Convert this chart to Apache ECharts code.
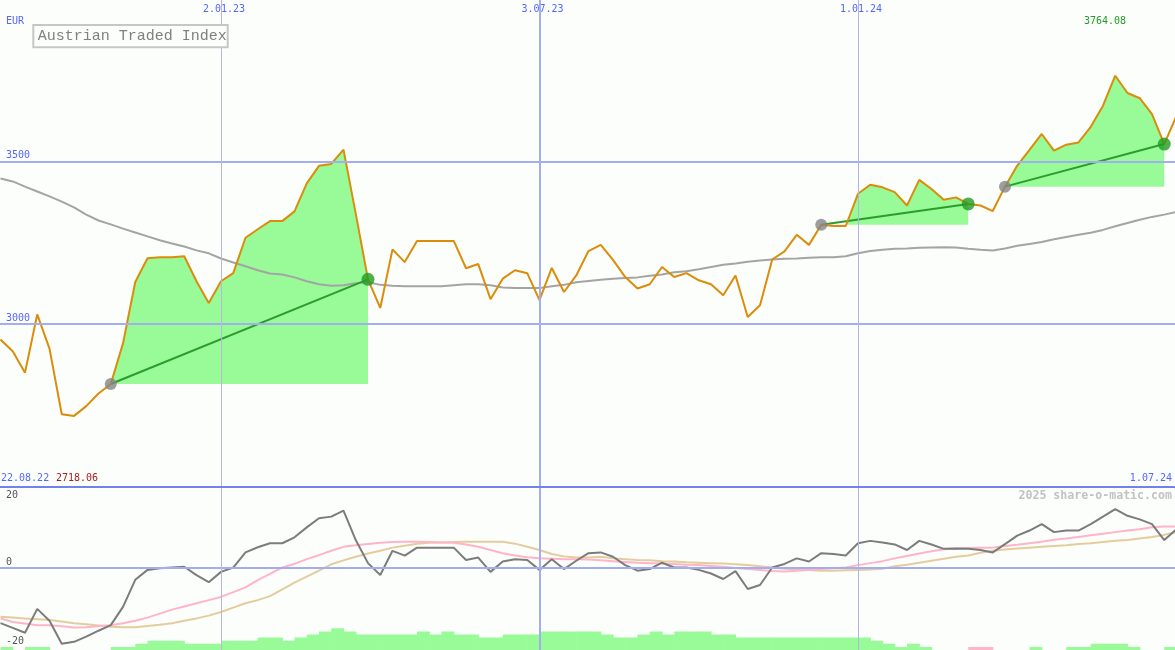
<!DOCTYPE html>
<html><head><meta charset="utf-8">
<script src="https://cdn.jsdelivr.net/npm/echarts@6/dist/echarts.min.js"></script>
<style>html,body{margin:0;padding:0;background:#fcfefc;}#c{width:1175px;height:650px;}</style>
</head><body><div id="c"></div>
<script>
// ---------- data ----------
const firstWeek = 1;                 // week index of first value (week 0 = 22.08.22)
const chartTitle = 'Austrian Traded Index';
const currency = 'EUR';
const startLabel = '22.08.22';
const endLabel = '1.07.24';
const minLabel = '2718.06';
const maxLabel = '3764.08';
const watermark = '2025 share-o-matic.com';
const xTickWeeks = [19, 45, 71];
const xTickLabels = ['2.01.23', '3.07.23', '1.01.24'];
const priceTicks = [3000, 3500];
const oscTicks = [20, 0, -20];

const price = [
  2953, 2917, 2851, 3030, 2925, 2723, 2718.06, 2748, 2787, 2816,
  2941, 3130, 3203, 3206, 3206, 3209, 3132, 3065, 3132, 3157,
  3266, 3292, 3317, 3317, 3347, 3433, 3487, 3493, 3537, 3340,
  3138, 3050, 3230, 3191, 3256, 3256, 3256, 3256, 3172, 3185,
  3077, 3140, 3166, 3157, 3074, 3173, 3099, 3150, 3225, 3244,
  3198, 3145, 3110, 3123, 3176, 3145, 3157, 3135, 3123, 3089,
  3150, 3022, 3058, 3199, 3224, 3275, 3244, 3306, 3302, 3302,
  3401, 3429, 3421, 3406, 3365, 3444, 3416, 3383, 3390, 3370,
  3365, 3348, 3423, 3488, 3536, 3585, 3534, 3552, 3559, 3607,
  3672, 3764.08, 3711, 3695, 3646, 3554, 3641
];
const priceMA = [
  3448, 3439, 3423, 3408, 3393, 3377, 3359, 3337, 3319, 3307,
  3294, 3282, 3270, 3258, 3248, 3239, 3227, 3218, 3202, 3190,
  3178, 3166, 3156, 3153, 3144, 3132, 3123, 3118, 3120, 3126,
  3129, 3121, 3118, 3117, 3117, 3117, 3117, 3120, 3123, 3123,
  3120, 3113, 3111, 3111, 3111, 3117, 3121, 3129, 3133, 3137,
  3140, 3142, 3144, 3149, 3153, 3160, 3163, 3169, 3176, 3183,
  3187, 3192, 3196, 3199, 3201, 3202, 3204, 3206, 3206, 3209,
  3218, 3225, 3229, 3232, 3233, 3235, 3236, 3237, 3236, 3232,
  3229, 3227, 3233, 3241, 3247, 3253, 3261, 3268, 3275, 3281,
  3290, 3301, 3311, 3321, 3330, 3337, 3345
];
const osc = [
  -14.0, -15.2, -16.4, -10.4, -13.4, -19.2, -18.7, -17.4, -15.9, -14.5,
  -9.9, -3.1, -0.6, -0.2, 0, 0.2, -1.9, -3.7, -1.1, 0,
  3.8, 5.1, 6.1, 6.1, 7.6, 10.1, 12.4, 12.8, 14.3, 6.9,
  1.1, -1.9, 4.2, 3.0, 5.0, 5.0, 5.0, 5.0, 1.9, 2.5,
  -1.1, 1.5, 2.1, 1.9, -0.6, 2.1, -0.4, 1.7, 3.6, 3.8,
  2.7, 0.6, -0.8, -0.4, 1.2, 0, 0, -0.6, -1.5, -2.9,
  -0.9, -5.4, -4.4, 0, 0.9, 2.3, 1.5, 3.6, 3.4, 3.0,
  6.1, 6.7, 6.3, 5.8, 4.4, 6.7, 5.8, 4.7, 4.8, 4.7,
  4.4, 3.8, 5.9, 8.0, 9.3, 10.9, 8.9, 9.3, 9.3, 10.9,
  12.8, 14.7, 13.0, 12.1, 10.9, 6.9, 9.6
];
const oscFast = [
  -12.8, -13.7, -14.1, -14.5, -14.5, -14.8, -15.1, -15.0, -14.7, -14.5,
  -14.0, -13.4, -12.6, -11.6, -10.6, -9.8, -9.0, -8.2, -7.4, -6.2,
  -5.0, -3.2, -1.6, 0, 0.9, 2.1, 3.1, 4.2, 5.2, 5.6,
  5.9, 6.2, 6.4, 6.5, 6.5, 6.4, 6.3, 6.2, 5.8, 5.2,
  4.4, 3.6, 3.0, 2.6, 2.3, 2.2, 2.1, 2.1, 2.0, 1.8,
  1.6, 1.4, 1.2, 1.1, 1.0, 0.9, 0.7, 0.6, 0.4, 0.2,
  -0.1, -0.4, -0.6, -0.9, -1.0, -0.8, -0.6, -0.4, -0.2, 0,
  0.6, 1.1, 1.6, 2.3, 2.9, 3.5, 4.1, 4.6, 4.8, 4.9,
  5.0, 5.0, 5.4, 5.7, 6.1, 6.5, 7.0, 7.3, 7.7, 8.1,
  8.5, 8.9, 9.3, 9.6, 10.1, 10.3, 10.3
];
const oscSlow = [
  -12.4, -12.6, -12.8, -13.0, -13.2, -13.6, -14.0, -14.3, -14.6, -14.9,
  -15.0, -15.0, -14.7, -14.4, -14.0, -13.4, -12.8, -12.1, -11.2, -10.1,
  -9.0, -8.2, -7.2, -5.5, -3.8, -2.3, -0.8, 0.8, 1.8, 2.7,
  3.5, 4.2, 5.0, 5.5, 6.0, 6.2, 6.3, 6.4, 6.5, 6.5,
  6.5, 6.5, 6.0, 5.2, 4.4, 3.4, 2.8, 2.5, 2.5, 2.7,
  2.3, 2.1, 1.9, 1.8, 1.6, 1.5, 1.3, 1.2, 1.1, 1.0,
  0.8, 0.6, 0.3, 0, -0.3, -0.5, -0.6, -0.8, -0.8, -0.7,
  -0.6, -0.5, -0.3, 0.3, 0.7, 1.2, 1.7, 2.2, 2.7, 3.0,
  3.7, 4.2, 4.5, 4.8, 5.0, 5.2, 5.4, 5.6, 5.9, 6.1,
  6.4, 6.7, 6.9, 7.3, 7.7, 8.2, 9.0
];
// weekly histogram (value of week i spans week i .. i+1)
const hist = [
  1, 0, 1, 1, 0, 0, 0, 0, 0, 1,
  1, 2, 3, 3, 3, 2, 2, 2, 3, 3,
  3, 4, 4, 3, 4, 5, 6, 7, 6, 5,
  5, 5, 5, 5, 6, 5, 6, 5, 5, 4,
  4, 5, 5, 5, 6, 6, 6, 6, 6, 5,
  4, 4, 5, 6, 5, 6, 6, 6, 5, 5,
  4, 4, 4, 4, 4, 4, 4, 4, 4, 4,
  4, 3, 2, 1, 2, 1, 0, 0, 0, -1,
  -1, 0, 0, 0, 1, 0, 0, 1, 1, 2,
  2, 2, 1, 0, 0, 1
];
// trades: [entry week, exit week]
const tradeEntries = [10, 68, 83];
const tradeExits = [31, 80, 96];

// ---------- styles ----------
const MONO = '"DejaVu Sans Mono", "Liberation Mono", monospace';
const BLUE_TXT = '#5566ff';
const GRID_BLUE = '#a3aef2';
const FILL_GREEN = '#98fb98';
const FILL_PINK = '#ffb6c6';
const X_MIN = 0.9592, X_MAX = 96.878;

const P = w => price[w - firstWeek];
const pts = arr => arr.map((v, k) => [k + firstWeek, v]);

function renderTrade(params, api) {
  const s = api.value(0), e = api.value(2);
  const base = P(s);
  const children = [];
  let run = [], sign = 0;
  const flush = () => {
    if (run.length > 1 && sign !== 0) {
      const poly = [api.coord([run[0][0], base])]
        .concat(run.map(p => api.coord(p)))
        .concat([api.coord([run[run.length - 1][0], base])]);
      children.push({ type: 'polygon', shape: { points: poly }, style: { fill: sign > 0 ? FILL_GREEN : FILL_PINK } });
    }
  };
  for (let w = s; w <= e; w++) {
    const v = P(w), d = v - base;
    if (w > s) {
      const pd = P(w - 1) - base;
      if (pd * d < 0) {
        const xc = (w - 1) + pd / (pd - d);
        run.push([xc, base]); flush(); run = [[xc, base]]; sign = 0;
      }
    }
    run.push([w, v]);
    if (sign === 0 && d !== 0) sign = Math.sign(d);
  }
  flush();
  return { type: 'group', children };
}

function renderHist(params, api) {
  const i = api.value(0), v = api.value(1);
  if (!v) return { type: 'group', children: [] };
  const a = api.coord([i, 0]), b = api.coord([i + 1, Math.abs(v)]);
  return { type: 'rect', shape: { x: a[0], y: b[1], width: b[0] - a[0] + 0.6, height: a[1] - b[1] },
           style: { fill: v > 0 ? FILL_GREEN : FILL_PINK } };
}

const vStyles = [
  { color: '#b6b8d6', width: 1 },
  { color: GRID_BLUE, width: 2 },
  { color: '#b0b6e4', width: 1 }
];
const vLines = xTickWeeks.map((w, k) => ({ xAxis: w, lineStyle: { ...vStyles[k], type: 'solid' } }));

const lineBase = { type: 'line', symbol: 'none', silent: true, smooth: false };

const chart = echarts.init(document.getElementById('c'), null, { renderer: 'canvas' });
const option = {
  animation: false,
  backgroundColor: '#fcfefc',
  textStyle: { fontFamily: MONO },
  grid: [
    { left: 0, width: 1175, top: 0, height: 486.8, containLabel: false, outerBoundsMode: 'none' },
    { left: 0, width: 1175, top: 486.8, height: 163.2, containLabel: false, outerBoundsMode: 'none' }
  ],
  xAxis: [
    { type: 'value', gridIndex: 0, min: X_MIN, max: X_MAX, position: 'top',
      axisLine: { show: false, onZero: false }, axisTick: { show: false }, splitLine: { show: false },
      axisLabel: { inside: true, customValues: xTickWeeks, margin: 4, padding: [0, 0, 0, 6],
        formatter: v => { const k = xTickWeeks.indexOf(v); return k >= 0 ? xTickLabels[k] : ''; },
        color: BLUE_TXT, fontFamily: MONO, fontSize: 10 } },
    { type: 'value', gridIndex: 1, min: X_MIN, max: X_MAX, position: 'top',
      axisLine: { show: true, onZero: false, lineStyle: { color: '#7282ea', width: 2 } },
      axisTick: { show: false }, splitLine: { show: false }, axisLabel: { show: false }, z: 10 }
  ],
  yAxis: [
    { type: 'value', gridIndex: 0, min: 2500, max: 3997, position: 'left',
      axisLine: { show: false }, axisTick: { show: false }, splitLine: { show: false },
      axisLabel: { inside: true, customValues: priceTicks, margin: 6, verticalAlign: 'bottom', lineHeight: 12,
        formatter: v => String(v),
        color: BLUE_TXT, fontFamily: MONO, fontSize: 10 } },
    { type: 'value', gridIndex: 1, min: -20.75, max: 20.3, position: 'left',
      axisLine: { show: false }, axisTick: { show: false }, splitLine: { show: false },
      axisLabel: { inside: true, customValues: oscTicks, margin: 6, verticalAlign: 'middle',
        color: '#555555', fontFamily: MONO, fontSize: 10,
        formatter: v => v === oscTicks[0] ? '{d|' + v + '}' : '{u|' + v + '}',
        rich: {
          d: { padding: [15, 0, 0, 0], color: '#555555', fontFamily: MONO, fontSize: 10, lineHeight: 12 },
          u: { padding: [0, 0, 11, 0], color: '#555555', fontFamily: MONO, fontSize: 10, lineHeight: 12 }
        } } },
    { type: 'value', gridIndex: 1, min: 0, max: 52.65, show: false }
  ],
  series: [
    // main grid lines
    { ...lineBase, xAxisIndex: 0, yAxisIndex: 0, data: [], z: 0,
      markLine: { silent: true, symbol: ['none', 'none'], label: { show: false }, animation: false,
        data: priceTicks.map(v => ({ yAxis: v, lineStyle: { color: GRID_BLUE, width: 2, type: 'solid' } })).concat(vLines) } },
    // trade fills
    { type: 'custom', xAxisIndex: 0, yAxisIndex: 0, z: 1, clip: true, silent: true,
      dimensions: ['start', 'entry', 'end'], encode: { x: 'start', y: 'entry' },
      data: tradeEntries.map((s, k) => [s, P(s), tradeExits[k]]),
      renderItem: renderTrade },
    // moving average
    { ...lineBase, xAxisIndex: 0, yAxisIndex: 0, z: 2, data: pts(priceMA),
      lineStyle: { color: '#a4a4a4', width: 2 } },
    // trade diagonals
    ...tradeEntries.map((s, k) => ({ ...lineBase, xAxisIndex: 0, yAxisIndex: 0, z: 3,
      data: [[s, P(s)], [tradeExits[k], P(tradeExits[k])]],
      lineStyle: { color: '#2b9d2b', width: 2 } })),
    // price
    { ...lineBase, xAxisIndex: 0, yAxisIndex: 0, z: 4, data: pts(price),
      lineStyle: { color: '#da8c0a', width: 2 } },
    // entry / exit markers
    { type: 'scatter', xAxisIndex: 0, yAxisIndex: 0, z: 5, silent: true, symbolSize: 12,
      data: tradeEntries.map(s => [s, P(s)]), itemStyle: { color: '#858585' } },
    { type: 'scatter', xAxisIndex: 0, yAxisIndex: 0, z: 5, silent: true, symbolSize: 13,
      data: tradeExits.map(e => [e, P(e)]), itemStyle: { color: '#239b23' } },

    // lower grid lines
    { ...lineBase, xAxisIndex: 1, yAxisIndex: 1, data: [], z: 0,
      markLine: { silent: true, symbol: ['none', 'none'], label: { show: false }, animation: false,
        data: [{ yAxis: 0, lineStyle: { color: GRID_BLUE, width: 2, type: 'solid' } }].concat(vLines) } },
    // histogram
    { type: 'custom', xAxisIndex: 1, yAxisIndex: 2, z: 1, clip: true, silent: true,
      data: hist.map((v, k) => [k + firstWeek, v]), renderItem: renderHist },
    { ...lineBase, xAxisIndex: 1, yAxisIndex: 1, z: 2, data: pts(oscSlow),
      lineStyle: { color: '#e4cc9e', width: 2 } },
    { ...lineBase, xAxisIndex: 1, yAxisIndex: 1, z: 3, data: pts(oscFast),
      lineStyle: { color: '#ffb4c8', width: 2 } },
    { ...lineBase, xAxisIndex: 1, yAxisIndex: 1, z: 4, data: pts(osc),
      lineStyle: { color: '#7c7c7c', width: 2 } }
  ],
  graphic: [
    { type: 'rect', z: 100, shape: { x: 33.3, y: 25, width: 194.4, height: 22.3 },
      style: { fill: '#fcfefc', stroke: '#c6c6c6', lineWidth: 2 } },
    { type: 'text', z: 101, x: 37.7, y: 36.5,
      style: { text: chartTitle, font: '15px "Liberation Mono", monospace', fill: '#808080', verticalAlign: 'middle' } },
    { type: 'text', z: 101, x: 6, y: 21,
      style: { text: currency, font: '10px ' + MONO, fill: BLUE_TXT, verticalAlign: 'middle' } },
    { type: 'text', z: 101, x: 1, y: 478.5,
      style: { text: startLabel, font: '10px ' + MONO, fill: BLUE_TXT, verticalAlign: 'middle' } },
    { type: 'text', z: 101, x: 56, y: 478.5,
      style: { text: minLabel, font: '10px ' + MONO, fill: '#aa1c1c', verticalAlign: 'middle' } },
    { type: 'text', z: 101, x: 1172, y: 478.5,
      style: { text: endLabel, font: '10px ' + MONO, fill: BLUE_TXT, align: 'right', verticalAlign: 'middle' } },
    { type: 'text', z: 101, x: 1084, y: 21,
      style: { text: maxLabel, font: '10px ' + MONO, fill: '#239b23', verticalAlign: 'middle' } },
    { type: 'text', z: 101, x: 1172, y: 496,
      style: { text: watermark, font: 'bold 11.6px ' + MONO, fill: '#c2c2c2', align: 'right', verticalAlign: 'middle' } }
  ]
};
chart.setOption(option);
</script>
</body></html>
